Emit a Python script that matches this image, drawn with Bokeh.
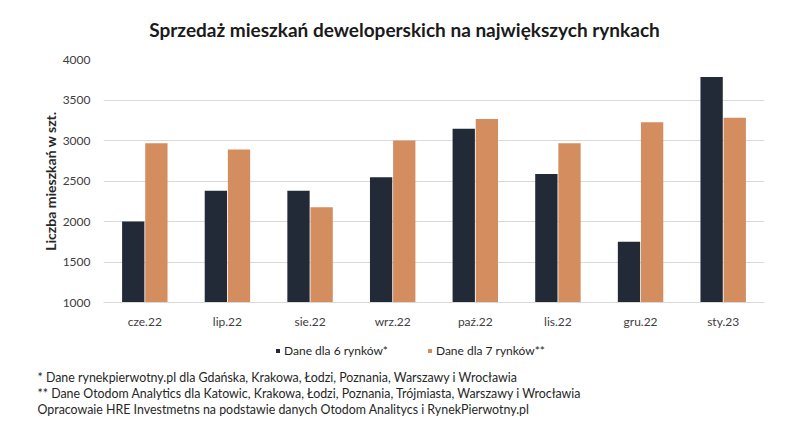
from bokeh.plotting import figure
from bokeh.layouts import column, row
from bokeh.models import (FactorRange, Range1d, Label, Legend, LegendItem,
                          SingleIntervalTicker, ColumnDataSource)
from bokeh.transform import dodge
from bokeh.embed import file_html
from bokeh.resources import INLINE

months = ["cze.22", "lip.22", "sie.22", "wrz.22", "paź.22", "lis.22", "gru.22", "sty.23"]
rynki6 = [2000, 2380, 2380, 2545, 3145, 2585, 1750, 3785]
rynki7 = [2965, 2890, 2175, 3000, 3265, 2965, 3225, 3280]
series_names = ["Dane dla 6 rynków*", "Dane dla 7 rynków**"]
title_text = "Sprzedaż mieszkań deweloperskich na największych rynkach"
y_label = "Liczba mieszkań w szt."
footnotes = [
    "* Dane rynekpierwotny.pl dla Gdańska, Krakowa, Łodzi, Poznania, Warszawy i Wrocławia",
    "** Dane Otodom Analytics dla Katowic, Krakowa, Łodzi, Poznania, Trójmiasta, Warszawy i Wrocławia",
    "Opracowaie HRE Investmetns na podstawie danych Otodom Analitycs i RynekPierwotny.pl",
]

FONT = "Lato"
DARK = "#222a38"
ORANGE = "#d38d5e"
TEXT = "#262626"
W = 812
H_TOP, H_MAIN, H_BOT = 50, 290, 105
L, R, T, B = 103, 764, 59, 302   # frame edges in page pixels


def blank(h):
    f = figure(width=W, height=h, x_range=Range1d(0, W), y_range=Range1d(0, h),
               x_axis_type=None, y_axis_type=None, output_backend="svg",
               toolbar_location=None, min_border=0)
    f.outline_line_color = None
    f.grid.visible = False
    f.background_fill_color = "white"
    f.border_fill_color = "white"
    return f


# ---- title strip
top = blank(H_TOP)
top.add_layout(Label(x=404, y=H_TOP - 29, text=title_text, text_font=FONT,
                     text_font_size="19px", text_font_style="bold", text_color="#1a1a1a",
                     text_align="center", text_baseline="middle"))

# ---- main chart
src = ColumnDataSource(dict(m=months, a=rynki6, b=rynki7))
p = figure(width=W, height=H_MAIN, x_range=FactorRange(*months, range_padding=0),
           y_range=Range1d(1000, 4000), output_backend="svg", toolbar_location=None,
           min_border_left=L, min_border_right=W - R, min_border_top=T - H_TOP,
           min_border_bottom=H_TOP + H_MAIN - B)
p.outline_line_color = None
p.background_fill_color = "white"
p.border_fill_color = "white"

p.vbar(x=dodge("m", -0.14, range=p.x_range), top="a", bottom=1000, width=0.27,
       source=src, fill_color=DARK, line_color=None)
p.vbar(x=dodge("m", 0.14, range=p.x_range), top="b", bottom=1000, width=0.27,
       source=src, fill_color=ORANGE, line_color=None)

p.xgrid.grid_line_color = None
p.ygrid.grid_line_color = "#d9d9d9"
p.yaxis.ticker = SingleIntervalTicker(interval=500)
p.yaxis.axis_line_color = None
p.yaxis.major_tick_line_color = None
p.yaxis.minor_tick_line_color = None
p.yaxis.major_tick_out = 0
p.yaxis.minor_tick_out = 0
p.yaxis.major_label_text_font = FONT
p.yaxis.major_label_text_font_size = "12px"
p.yaxis.major_label_text_color = "#404040"
p.yaxis.major_label_standoff = 13
p.yaxis.axis_label = y_label
p.yaxis.axis_label_text_font = FONT
p.yaxis.axis_label_text_font_size = "14px"
p.yaxis.axis_label_text_font_style = "bold"
p.yaxis.axis_label_text_color = TEXT
p.yaxis.axis_label_standoff = 1

p.xaxis.axis_line_color = "#d9d9d9"
p.xaxis.major_tick_line_color = None
p.xaxis.minor_tick_line_color = None
p.xaxis.major_tick_out = 0
p.xaxis.minor_tick_out = 0
p.xaxis.major_label_text_font = FONT
p.xaxis.major_label_text_font_size = "12px"
p.xaxis.major_label_text_color = "#404040"
p.xaxis.major_label_standoff = 11

# ---- legend + footnotes strip
bot = blank(H_BOT)
y0 = H_TOP + H_MAIN
key_src = ColumnDataSource(dict(x=[0], top=[0]))
k1 = bot.vbar(x="x", top="top", bottom=0, width=0, source=key_src,
              fill_color=DARK, line_color=None)
k2 = bot.vbar(x="x", top="top", bottom=0, width=0, source=key_src,
              fill_color=ORANGE, line_color=None)
legend = Legend(items=[LegendItem(label=series_names[0], renderers=[k1]),
                       LegendItem(label=series_names[1], renderers=[k2])],
                orientation="horizontal", location=(275, H_BOT - (350 - y0) - 8),
                glyph_width=5, glyph_height=5, label_standoff=4, spacing=39,
                label_text_font=FONT, label_text_font_size="12px",
                label_text_color=TEXT, background_fill_alpha=0,
                border_line_color=None, padding=0, margin=0)
bot.add_layout(legend, "center")

for i, line in enumerate(footnotes):
    bot.add_layout(Label(x=37, y=H_BOT - (377 + 16 * i - y0), text=line, text_font=FONT,
                         text_font_size="12.4px", text_color=TEXT,
                         text_align="left", text_baseline="middle"))

layout = column(row(top), row(p), row(bot), spacing=0)
open("out.html", "w").write(file_html(layout, INLINE))
